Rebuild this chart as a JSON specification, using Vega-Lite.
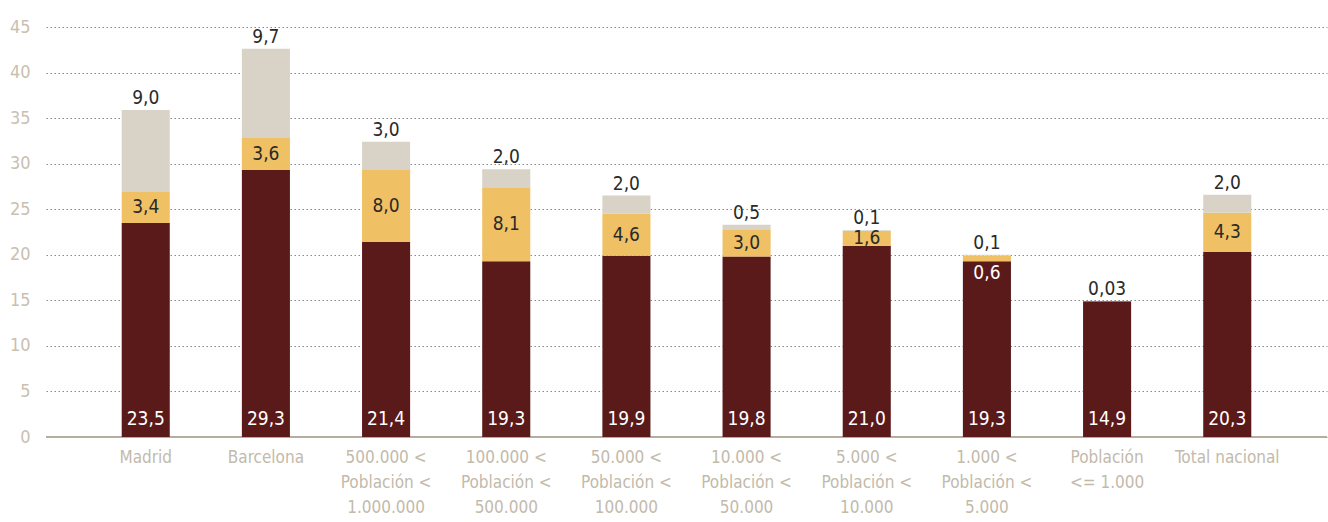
{
  "$schema": "https://vega.github.io/schema/vega-lite/v6.json",
  "autosize": "none",
  "width": 1281,
  "height": 410,
  "padding": {"left": 46, "top": 27, "right": 1, "bottom": 85},
  "background": "white",
  "config": {
    "font": "'Liberation Sans Narrow', 'DejaVu Sans Condensed', 'Roboto', sans-serif",
    "view": {"stroke": null}
  },
  "data": {
    "values": [
      {"cat": "Madrid", "seg": "a", "ord": 1, "value": 23.5, "label": "23,5"},
      {"cat": "Madrid", "seg": "b", "ord": 2, "value": 3.4, "label": "3,4"},
      {"cat": "Madrid", "seg": "c", "ord": 3, "value": 9.0, "label": "9,0"},
      {"cat": "Barcelona", "seg": "a", "ord": 1, "value": 29.3, "label": "29,3"},
      {"cat": "Barcelona", "seg": "b", "ord": 2, "value": 3.6, "label": "3,6"},
      {"cat": "Barcelona", "seg": "c", "ord": 3, "value": 9.7, "label": "9,7"},
      {"cat": "500.000 <|Población <|1.000.000", "seg": "a", "ord": 1, "value": 21.4, "label": "21,4"},
      {"cat": "500.000 <|Población <|1.000.000", "seg": "b", "ord": 2, "value": 8.0, "label": "8,0"},
      {"cat": "500.000 <|Población <|1.000.000", "seg": "c", "ord": 3, "value": 3.0, "label": "3,0"},
      {"cat": "100.000 <|Población <|500.000", "seg": "a", "ord": 1, "value": 19.3, "label": "19,3"},
      {"cat": "100.000 <|Población <|500.000", "seg": "b", "ord": 2, "value": 8.1, "label": "8,1"},
      {"cat": "100.000 <|Población <|500.000", "seg": "c", "ord": 3, "value": 2.0, "label": "2,0"},
      {"cat": "50.000 <|Población <|100.000", "seg": "a", "ord": 1, "value": 19.9, "label": "19,9"},
      {"cat": "50.000 <|Población <|100.000", "seg": "b", "ord": 2, "value": 4.6, "label": "4,6"},
      {"cat": "50.000 <|Población <|100.000", "seg": "c", "ord": 3, "value": 2.0, "label": "2,0"},
      {"cat": "10.000 <|Población <|50.000", "seg": "a", "ord": 1, "value": 19.8, "label": "19,8"},
      {"cat": "10.000 <|Población <|50.000", "seg": "b", "ord": 2, "value": 3.0, "label": "3,0"},
      {"cat": "10.000 <|Población <|50.000", "seg": "c", "ord": 3, "value": 0.5, "label": "0,5"},
      {"cat": "5.000 <|Población <|10.000", "seg": "a", "ord": 1, "value": 21.0, "label": "21,0"},
      {"cat": "5.000 <|Población <|10.000", "seg": "b", "ord": 2, "value": 1.6, "label": "1,6"},
      {"cat": "5.000 <|Población <|10.000", "seg": "c", "ord": 3, "value": 0.1, "label": "0,1"},
      {"cat": "1.000 <|Población <|5.000", "seg": "a", "ord": 1, "value": 19.3, "label": "19,3"},
      {"cat": "1.000 <|Población <|5.000", "seg": "b", "ord": 2, "value": 0.6, "label": "0,6"},
      {"cat": "1.000 <|Población <|5.000", "seg": "c", "ord": 3, "value": 0.1, "label": "0,1"},
      {"cat": "Población|<= 1.000", "seg": "a", "ord": 1, "value": 14.9, "label": "14,9"},
      {"cat": "Población|<= 1.000", "seg": "b", "ord": 2, "value": 0.03, "label": "0,03"},
      {"cat": "Población|<= 1.000", "seg": "c", "ord": 3, "value": 0, "label": ""},
      {"cat": "Total nacional", "seg": "a", "ord": 1, "value": 20.3, "label": "20,3"},
      {"cat": "Total nacional", "seg": "b", "ord": 2, "value": 4.3, "label": "4,3"},
      {"cat": "Total nacional", "seg": "c", "ord": 3, "value": 2.0, "label": "2,0"}
    ]
  },
  "encoding": {
    "x": {
      "field": "cat",
      "type": "nominal",
      "sort": ["Madrid", "Barcelona", "500.000 <|Población <|1.000.000", "100.000 <|Población <|500.000", "50.000 <|Población <|100.000", "10.000 <|Población <|50.000", "5.000 <|Población <|10.000", "1.000 <|Población <|5.000", "Población|<= 1.000", "Total nacional"],
      "scale": {"paddingInner": 0.6, "paddingOuter": 0.63},
      "axis": {
        "title": null,
        "labelAngle": 0,
        "labelExpr": "split(datum.label, '|')",
        "labelFontSize": 17,
        "labelLineHeight": 25,
        "labelColor": "#c2baab",
        "labelPadding": 12,
        "labelBaseline": "top",
        "ticks": false,
        "domain": false
      }
    }
  },
  "layer": [
    {
      "mark": {"type": "rule", "color": "#b5ada0", "strokeWidth": 2},
      "encoding": {"y": {"datum": 0, "type": "quantitative"}, "x": {"value": 0}, "x2": {"value": 1281}}
    },
    {
      "mark": {"type": "bar"},
      "encoding": {
        "y": {
          "field": "value",
          "type": "quantitative",
          "stack": "zero",
          "scale": {"domain": [0, 45], "nice": false},
          "axis": {
            "title": null,
            "values": [0, 5, 10, 15, 20, 25, 30, 35, 40, 45],
            "labelFontSize": 18,
            "labelColor": "#c9c0b0",
            "labelPadding": 16,
            "ticks": false,
            "domain": false,
            "grid": true,
            "gridColor": "#8a8a8a",
            "gridDash": [1.5, 2.5],
            "gridWidth": 1.2
          }
        },
        "order": {"field": "ord"},
        "color": {
          "field": "seg",
          "type": "nominal",
          "legend": null,
          "scale": {"domain": ["a", "b", "c"], "range": ["#5a1a1a", "#f0c064", "#d9d3c7"]}
        }
      }
    },
    {
      "transform": [{"filter": "datum.seg == 'a'"}],
      "mark": {"type": "text", "color": "white", "fontSize": 19, "baseline": "bottom", "dy": -8},
      "encoding": {"y": {"datum": 0, "type": "quantitative"}, "text": {"field": "label"}}
    },
    {
      "mark": {"type": "text", "color": "#2a2a2a", "fontSize": 19, "baseline": "middle"},
      "encoding": {
        "y": {"field": "value", "type": "quantitative", "stack": "zero", "bandPosition": 0.5},
        "order": {"field": "ord"},
        "detail": {"field": "seg"},
        "text": {"condition": {"test": "datum.seg == 'b' && datum.value >= 1", "field": "label"}, "value": ""}
      }
    },
    {
      "mark": {"type": "text", "color": "white", "fontSize": 19, "baseline": "middle", "dy": 15},
      "encoding": {
        "y": {"field": "value", "type": "quantitative", "stack": "zero", "bandPosition": 0.5},
        "order": {"field": "ord"},
        "detail": {"field": "seg"},
        "text": {"condition": {"test": "datum.seg == 'b' && datum.value < 1 && datum.value >= 0.1", "field": "label"}, "value": ""}
      }
    },
    {
      "mark": {"type": "text", "color": "#2a2a2a", "fontSize": 19, "baseline": "bottom", "dy": -2},
      "encoding": {
        "y": {"field": "value", "type": "quantitative", "stack": "zero"},
        "order": {"field": "ord"},
        "detail": {"field": "seg"},
        "text": {"condition": {"test": "(datum.seg == 'c' && datum.value > 0) || (datum.seg == 'b' && datum.value < 0.1)", "field": "label"}, "value": ""}
      }
    }
  ]
}
